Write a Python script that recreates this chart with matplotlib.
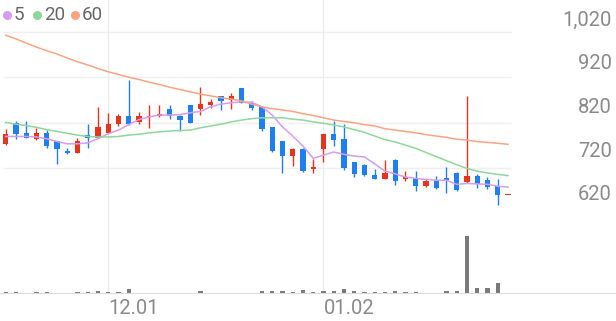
import matplotlib
matplotlib.use("Agg")
import matplotlib.pyplot as plt
import numpy as np

plt.rcParams['font.family'] = ['Roboto', 'DejaVu Sans']

# daily candles (oldest -> newest)
opens = [774, 820, 798, 784, 798, 779, 759, 754, 794, 787,
         798, 817, 836, 822, 833, 834, 851, 836, 858, 851,
         858, 879, 869, 896, 863, 855, 810, 779, 747, 763,
         718, 762, 795, 785, 734, 728, 706, 697, 739, 696,
         699, 681, 692, 699, 711, 690, 703, 694, 681, 661]
highs = [806, 823, 823, 809, 804, 781, 765, 787, 817, 855,
         842, 840, 914, 844, 858, 858, 858, 837, 859, 898,
         872, 879, 886, 897, 867, 856, 811, 780, 764, 764,
         740, 796, 825, 817, 735, 729, 718, 739, 740, 714,
         714, 697, 703, 723, 712, 878, 708, 701, 697, 662]
lows = [772, 785, 787, 783, 765, 730, 752, 753, 765, 786,
        797, 814, 815, 818, 809, 833, 829, 801, 819, 838,
        852, 847, 851, 863, 847, 801, 757, 711, 725, 713,
        710, 734, 769, 716, 701, 704, 697, 697, 683, 692,
        670, 679, 675, 667, 671, 689, 676, 675, 639, 661]
closes = [796, 796, 787, 798, 769, 763, 753, 779, 787, 810,
          817, 836, 817, 835, 836, 840, 835, 827, 820, 861,
          866, 868, 878, 864, 852, 807, 758, 747, 763, 714,
          723, 795, 782, 721, 708, 705, 697, 710, 692, 701,
          681, 692, 677, 694, 672, 703, 685, 679, 661, 662]
volumes = [17, 17, 12, 22, 22, 12, 12, 17, 17, 43,
           17, 17, 69, 12, 12, 12, 12, 12, 12, 35,
           12, 12, 12, 12, 12, 35, 35, 35, 22, 57,
           17, 47, 47, 69, 35, 22, 22, 22, 35, 22,
           17, 12, 12, 40, 35, 1000, 87, 99, 173, 0]

ma5 = [790, 790, 790, 789, 785, 779, 774, 774, 776, 785,
       796, 804, 816, 827, 833, 837, 837, 838, 842, 845,
       855, 861, 864, 866, 865, 855, 837, 811, 791, 769,
       742, 749, 756, 751, 747, 745, 730, 714, 708, 701,
       698, 696, 694, 694, 685, 687, 686, 685, 681, 679]
ma20 = [821, 817, 814, 810, 805, 801, 797, 793, 790, 789,
        789, 790, 793, 795, 798, 800, 802, 803, 804, 809,
        813, 817, 822, 826, 829, 831, 831, 831, 828, 826,
        822, 819, 815, 811, 805, 799, 791, 783, 778, 771,
        764, 755, 746, 737, 728, 720, 714, 710, 707, 704]
ma60 = [1012, 1004, 995, 986, 978, 971, 962, 954, 947, 939,
        932, 926, 920, 915, 909, 904, 898, 893, 888, 883,
        879, 875, 872, 868, 861, 855, 851, 848, 845, 840,
        836, 831, 826, 823, 820, 816, 813, 807, 804, 801,
        798, 794, 791, 788, 784, 782, 779, 777, 775, 773]

ma_labels = ['5', '20', '60']
ma_colors = ['#d69cf0', '#8fd69c', '#f7a583']
price_ticks = [620, 720, 820, 920, 1020]
price_labels = ['620', '720', '820', '920', '1,020']
date_pos = [10, 31]
date_labels = ['12.01', '01.02']

UP = '#e6351f'
DOWN = '#1f7ff0'

W, H = 616, 321
fig = plt.figure(figsize=(W / 100, H / 100), dpi=100)
ax = fig.add_axes([0, 1 - 214 / H, 1, 214 / H])
axv = fig.add_axes([0, 1 - 293.3 / H, 1, (293.3 - 214) / H])

x = np.arange(len(closes))
xlim = (-5.7 / 10.25, (W - 5.7) / 10.25)

# price panel
ax.set_xlim(xlim)
ax.set_ylim(620, 620 + 214 / 0.456)
ax.hlines(price_ticks[1:], -0.26, 49.3, color='#efefef', lw=1, zorder=0)
for p in date_pos:
    ax.axvline(p, color='#ececec', lw=1, zorder=0)
    axv.axvline(p, color='#ececec', lw=1, zorder=0)

for i in x:
    o, h, l, c = opens[i], highs[i], lows[i], closes[i]
    col = UP if c >= o else DOWN
    ax.vlines(i, l, h, color=col, lw=1.0, zorder=2)
    ax.bar(i, max(abs(c - o), 3), bottom=min(o, c), width=0.5,
           color=col, zorder=2)

for vals, col in zip([ma5, ma20, ma60], ma_colors):
    ax.plot(x, vals, color=col, lw=1.1, zorder=3)

for s in ['top', 'left', 'right']:
    ax.spines[s].set_visible(False)
ax.spines['bottom'].set_color('#e4e4e4')
ax.set_xticks([])
ax.set_yticks([])

# price labels sit on their own scale
axl = ax.twinx()
axl.set_ylim(620 - 19 / 0.4375, 620 + 195 / 0.4375)
axl.axis('off')
for v, lab in zip(price_ticks, price_labels):
    axl.text(612 / W, v, lab, transform=axl.get_yaxis_transform(),
             ha='right', va='center', fontsize=14.5, color='#8a8a8a')

# volume panel
axv.set_xlim(xlim)
axv.set_ylim(0, 1374)
axv.bar(x, volumes, width=0.4, color='#7a7a7a', zorder=2)
for s in ['top', 'left', 'right']:
    axv.spines[s].set_visible(False)
axv.spines['bottom'].set_color('#dcdcdc')
axv.set_yticks([])
axv.set_xticks(date_pos)
axv.set_xticklabels(date_labels, ha='left', fontsize=14.5, color='#8a8a8a')
axv.tick_params(axis='x', length=0, pad=4)

# legend
dot_x = [7, 37, 75]
for px, lab, col in zip(dot_x, ma_labels, ma_colors):
    fig.add_artist(plt.Line2D([px / W], [1 - 15 / H], marker='o', ms=5.5,
                              color=col, transform=fig.transFigure))
    fig.text((px + 7) / W, 1 - 15 / H, lab, ha='left', va='center',
             fontsize=13.5, color='#666666')

fig.savefig('out.png', dpi=100)
